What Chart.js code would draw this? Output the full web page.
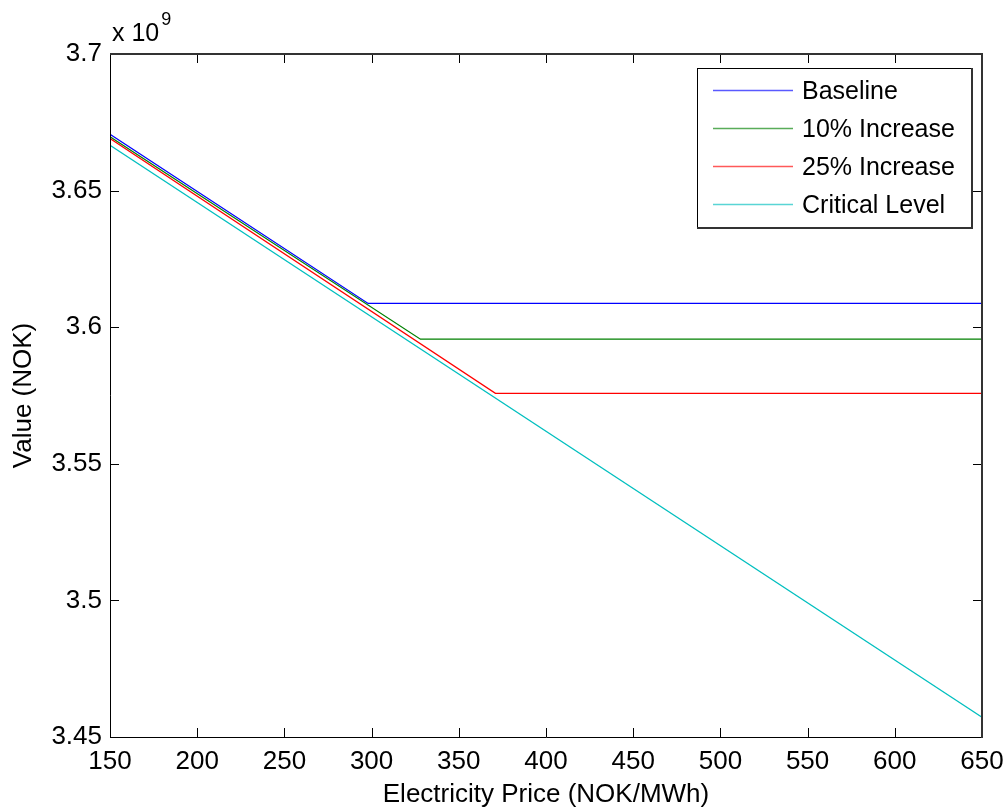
<!DOCTYPE html>
<html>
<head>
<meta charset="utf-8">
<script src="https://cdn.jsdelivr.net/npm/chart.js@4.4.1/dist/chart.umd.min.js"></script>
<style>
  html, body { margin: 0; padding: 0; background: #ffffff; }
  #wrap { width: 1007px; height: 808px; }
</style>
</head>
<body>
<div id="wrap"><canvas id="c" width="1007" height="808"></canvas></div>
<script>
// Series: portfolio value (x 10^9 NOK) against electricity price (NOK/MWh)
const seriesNames  = ['Baseline', '10% Increase', '25% Increase', 'Critical Level'];
const seriesColors = ['#0000ff', '#008000', '#ff0000', '#00bfbf'];

const baselinePrice = [150, 298, 650];
const baselineValue = [3.6706, 3.6087, 3.6087];

const inc10Price = [150, 328, 650];
const inc10Value = [3.6697, 3.5956, 3.5956];

const inc25Price = [150, 371, 650];
const inc25Value = [3.6691, 3.5758, 3.5758];

const criticalPrice = [150, 650];
const criticalValue = [3.6666, 3.4572];

const xTicks = [150, 200, 250, 300, 350, 400, 450, 500, 550, 600, 650];
const yTicks = [3.45, 3.5, 3.55, 3.6, 3.65, 3.7];
const xTitle = 'Electricity Price (NOK/MWh)';
const yTitle = 'Value (NOK)';
const exponentBase = 'x 10';
const exponentPower = '9';

const FONT = '"Liberation Sans", Arial, Helvetica, sans-serif';
const FS = 26;      // axis text
const LFS = 25;     // legend text

function pairs(xs, ys) { return xs.map((x, i) => ({ x: x, y: ys[i] })); }

const seriesData = [
  pairs(baselinePrice, baselineValue),
  pairs(inc10Price, inc10Value),
  pairs(inc25Price, inc25Value),
  pairs(criticalPrice, criticalValue)
];

// Frame, inward ticks on all four sides, exponent label and legend box
const framePlugin = {
  id: 'frame',
  afterDatasetsDraw(chart) {
    const ctx = chart.ctx;
    const a = chart.chartArea;
    const xs = chart.scales.x, ys = chart.scales.y;
    const tl = 9;
    ctx.save();

    // ticks
    ctx.strokeStyle = '#000';
    ctx.lineWidth = 1;
    ctx.beginPath();
    xTicks.forEach(v => {
      const px = Math.round(xs.getPixelForValue(v)) + 0.5;
      ctx.moveTo(px, a.bottom); ctx.lineTo(px, a.bottom - tl);
      ctx.moveTo(px, a.top); ctx.lineTo(px, a.top + tl);
    });
    yTicks.forEach(v => {
      const py = Math.round(ys.getPixelForValue(v)) + 0.5;
      ctx.moveTo(a.left, py); ctx.lineTo(a.left + tl, py);
      ctx.moveTo(a.right, py); ctx.lineTo(a.right - tl, py);
    });
    ctx.stroke();

    // axes box
    ctx.beginPath();
    ctx.strokeStyle = '#000';
    ctx.lineWidth = 1;
    ctx.moveTo(Math.round(a.left) + 0.5, a.top);
    ctx.lineTo(Math.round(a.left) + 0.5, Math.round(a.bottom) + 0.5);
    ctx.lineTo(a.right, Math.round(a.bottom) + 0.5);
    ctx.stroke();
    ctx.beginPath();
    ctx.strokeStyle = '#333';
    ctx.lineWidth = 2;
    ctx.moveTo(a.left, Math.round(a.top));
    ctx.lineTo(Math.round(a.right), Math.round(a.top));
    ctx.lineTo(Math.round(a.right), a.bottom + 1);
    ctx.stroke();

    // exponent label
    ctx.fillStyle = '#000';
    ctx.textBaseline = 'alphabetic';
    ctx.textAlign = 'left';
    ctx.font = LFS + 'px ' + FONT;
    ctx.fillText(exponentBase, a.left + 2, a.top - 13);
    const w = ctx.measureText(exponentBase).width;
    ctx.font = Math.round(LFS * 0.72) + 'px ' + FONT;
    ctx.fillText(exponentPower, a.left + 4 + w, a.top - 29);

    // legend
    const lx = 697, ly = 68, lw = 275, lh = 159;
    ctx.fillStyle = '#fff';
    ctx.fillRect(lx, ly, lw, lh);
    ctx.strokeStyle = '#000';
    ctx.lineWidth = 1;
    ctx.strokeRect(lx + 0.5, ly + 0.5, lw, lh);
    ctx.beginPath();
    ctx.strokeStyle = '#333';
    ctx.lineWidth = 2;
    ctx.moveTo(lx + lw, ly);
    ctx.lineTo(lx + lw, ly + lh + 1);
    ctx.lineTo(lx, ly + lh + 1);
    ctx.stroke();

    ctx.font = LFS + 'px ' + FONT;
    ctx.textBaseline = 'middle';
    const rows = [90, 128, 166, 204];
    chart.data.datasets.forEach((ds, i) => {
      const y = rows[i] + 0.5;
      ctx.beginPath();
      ctx.strokeStyle = ds.borderColor;
      ctx.globalAlpha = 0.65;
      ctx.lineWidth = 1.5;
      ctx.moveTo(713, y); ctx.lineTo(793, y);
      ctx.stroke();
      ctx.globalAlpha = 1;
      ctx.fillStyle = '#000';
      ctx.fillText(ds.label, 802, rows[i] + 2);
    });
    ctx.restore();
  }
};

const datasets = seriesNames.map((name, i) => ({
  label: name,
  data: seriesData[i],
  borderColor: seriesColors[i],
  backgroundColor: seriesColors[i],
  borderWidth: 1.3,
  pointRadius: 0,
  fill: false,
  tension: 0,
  order: seriesNames.length - i
}));

new Chart(document.getElementById('c'), {
  type: 'line',
  data: { datasets: datasets },
  options: {
    responsive: false,
    devicePixelRatio: 1,
    animation: false,
    layout: { padding: { top: 54, right: 25, left: 0, bottom: 0 } },
    plugins: { legend: { display: false }, tooltip: { enabled: false } },
    scales: {
      x: {
        type: 'linear',
        min: 150, max: 650,
        afterBuildTicks: s => { s.ticks = xTicks.map(v => ({ value: v })); },
        afterFit: s => { s.height = 71; s.paddingLeft = 0; s.paddingRight = 0; },
        grid: { display: false, drawTicks: false },
        border: { display: false },
        ticks: { color: '#000', font: { family: FONT, size: FS }, padding: 9, maxRotation: 0, autoSkip: false },
        title: { display: true, text: xTitle, color: '#000', font: { family: FONT, size: FS }, padding: { top: 0, bottom: -2 } }
      },
      y: {
        type: 'linear',
        min: 3.45, max: 3.7,
        afterBuildTicks: s => { s.ticks = yTicks.map(v => ({ value: v })); },
        afterFit: s => { s.width = 110; s.paddingTop = 0; s.paddingBottom = 0; },
        grid: { display: false, drawTicks: false },
        border: { display: false },
        ticks: { color: '#000', font: { family: FONT, size: FS }, padding: 8, autoSkip: false,
                 callback: v => String(Number(v.toFixed(2))) },
        title: { display: true, text: yTitle, color: '#000', font: { family: FONT, size: FS }, padding: { top: 8, bottom: 0 } }
      }
    }
  },
  plugins: [framePlugin]
});
</script>
</body>
</html>
